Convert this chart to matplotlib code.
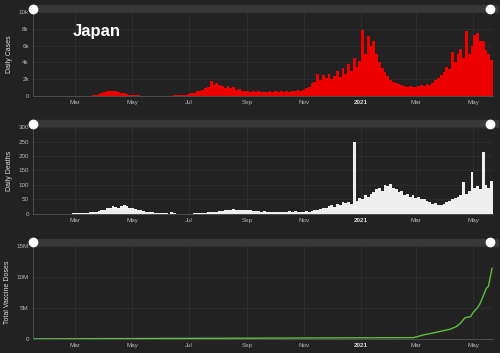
import matplotlib
matplotlib.use("Agg")
import matplotlib.pyplot as plt
import matplotlib.dates as mdates
import numpy as np
import pandas as pd

# 3-day buckets starting 2020-01-16
start = "2020-01-16"
step_days = 3

cases = [
    0, 0, 1, 1, 2, 3, 4, 6, 8, 10, 12, 15, 20, 25, 30,
    40, 45, 50, 45, 55, 60, 90,
    150, 250, 400, 520, 620,
    650, 600, 560, 480, 380, 300, 230,
    180, 130, 100, 70, 55, 40, 30,
    30, 25, 30, 35, 40, 40, 45, 50, 60, 70,
    90, 110, 140, 180,
    250, 300, 400, 550, 650, 750, 900, 1100, 1750, 1300, 1500, 1350, 1200, 1000,
    1250, 900, 1050, 750, 800, 600, 650,
    550, 500, 600, 480, 550, 450, 500, 420, 550, 500, 600, 480, 550, 520, 600,
    500, 650, 550, 700, 600,
    700, 900, 1100, 1500, 1700,
    2600, 1900, 2500, 2200, 2600, 2000, 2400, 3000, 2300, 3300, 2600, 3800,
    3000, 4500, 3500, 4200, 7800, 5000, 7200, 6000, 6500, 5000, 4000, 3300,
    2800, 2400, 1900, 1700, 1500, 1400, 1300, 1200, 1100, 1150, 1050, 1100,
    1200, 1300, 1250, 1450, 1350, 1600, 1900, 2200, 2500, 2900, 3500, 3200,
    5200, 4000, 5000, 5600, 4500, 7700, 5000, 6000, 7300, 7500, 6500, 6500,
    5500, 5000, 4300,
]

deaths = [
    0, 0, 0, 0, 0, 0, 0, 0, 0, 0, 1, 1, 1, 1, 2,
    2, 3, 2, 3, 4, 5, 6,
    8, 10, 12, 15, 20,
    22, 28, 25, 20, 26, 30, 28, 22,
    20, 18, 15, 12, 10, 8,
    6, 5, 4, 3, 3, 2, 2, 1, 8, 2,
    1, 1, 1, 1, 1, 1, 2, 2, 3, 4,
    4, 5, 6, 7, 8, 10, 9, 12, 15, 13, 16, 14, 15, 12, 14, 13, 12, 10, 11, 9,
    7, 10, 6, 7, 5, 6, 6, 5, 7, 5, 10, 5, 10, 6, 8,
    8, 9, 8, 10, 12,
    14, 18, 22, 20, 28, 30, 25, 35, 32, 40, 38, 42,
    35, 250, 45, 55, 50, 65, 60, 70, 75,
    85, 90, 80, 100, 95, 105, 90, 85,
    75, 80, 65, 70, 60, 65,
    55, 58, 50, 52, 45,
    40, 35, 38, 32, 30, 35, 40, 45,
    50, 55, 60, 65, 110, 70,
    80, 145, 90, 95, 85, 215, 100, 90, 115,
]

vax_dates = ["2020-01-16", "2021-02-26", "2021-03-09", "2021-03-23", "2021-04-06",
             "2021-04-13", "2021-04-17", "2021-04-22", "2021-04-28", "2021-05-01",
             "2021-05-05", "2021-05-08", "2021-05-12", "2021-05-15", "2021-05-17",
             "2021-05-21"]
vax_doses = [0, 0.2e6, 0.65e6, 1.08e6, 1.56e6, 1.99e6, 2.5e6, 3.4e6, 3.6e6, 4.3e6,
             4.95e6, 5.65e6, 7.1e6, 8.2e6, 8.45e6, 11.4e6]

tick_dates = ["2020-03-01", "2020-05-01", "2020-07-01", "2020-09-01", "2020-11-01",
              "2021-01-01", "2021-03-01", "2021-05-01"]
tick_labels = ["Mar", "May", "Jul", "Sep", "Nov", "2021", "Mar", "May"]

bg = "#222222"
grid_c = "#2f2f2f"
txt_c = "#b5b5b5"

plt.rcParams['font.family'] = ['Liberation Sans', 'DejaVu Sans']

fig = plt.figure(figsize=(5, 3.53), dpi=100, facecolor=bg)

case_dates = pd.date_range(start, periods=len(cases), freq=f"{step_days}D")
death_dates = pd.date_range(start, periods=len(deaths), freq=f"{step_days}D")
xmin = pd.Timestamp("2020-01-16")
xmax = pd.Timestamp("2021-05-22")

panels = [
    # rect, ylim, yticks, ylabels, ylabel
    ([0.066, 0.728, 0.920, 0.238], 10000, [0, 2000, 4000, 6000, 8000, 10000],
     ["0", "2k", "4k", "6k", "8k", "10k"], "Daily Cases"),
    ([0.066, 0.394, 0.920, 0.246], 300, [0, 50, 100, 150, 200, 250, 300],
     ["0", "50", "100", "150", "200", "250", "300"], "Daily Deaths"),
    ([0.066, 0.040, 0.920, 0.263], 15e6, [0, 5e6, 10e6, 15e6],
     ["0", "5M", "10M", "15M"], "Total Vaccine Doses"),
]

axes = []
for rect, ytop, yt, yl, ylab in panels:
    ax = fig.add_axes(rect, facecolor=bg)
    ax.set_xlim(xmin, xmax)
    ax.set_ylim(0, ytop)
    ax.set_yticks(yt)
    ax.set_yticklabels(yl)
    ax.set_xticks(pd.to_datetime(tick_dates))
    ax.set_xticklabels(tick_labels)
    ax.tick_params(length=0, labelsize=4.5, colors=txt_c, pad=3)
    ax.get_xticklabels()[5].set_fontweight("bold")
    ax.get_xticklabels()[5].set_color("#dddddd")
    ax.grid(True, color=grid_c, linewidth=0.6)
    ax.set_axisbelow(True)
    for s in ["top", "right"]:
        ax.spines[s].set_visible(False)
    ax.spines["left"].set_color("#555555")
    ax.spines["bottom"].set_color("#555555")
    ax.spines["left"].set_linewidth(0.6)
    ax.spines["bottom"].set_linewidth(0.6)
    ax.set_ylabel(ylab, fontsize=5, color="#dddddd", labelpad=4)
    # range slider band on top
    ax.add_patch(plt.Rectangle((0, 1.0), 1.01, 0.08, transform=ax.transAxes,
                               color="#383838", clip_on=False, zorder=0))
    ax.plot([0, 0.993], [1.04, 1.04], 'o', transform=ax.transAxes, color="white",
            markersize=6, clip_on=False, zorder=5)
    axes.append(ax)

ax1, ax2, ax3 = axes
ax1.bar(case_dates, cases, width=step_days, align="edge", color="#ee0000", linewidth=0)
ax1.text(0.086, 0.714, "Japan", transform=ax1.transAxes, fontsize=12,
         fontweight="bold", color="white")

ax2.bar(death_dates, deaths, width=step_days, align="edge", color="#eeeeee", linewidth=0)

ax3.plot(pd.to_datetime(vax_dates), vax_doses, color="#5cc03a", linewidth=1)

fig.savefig("out.png", dpi=100, facecolor=bg)
